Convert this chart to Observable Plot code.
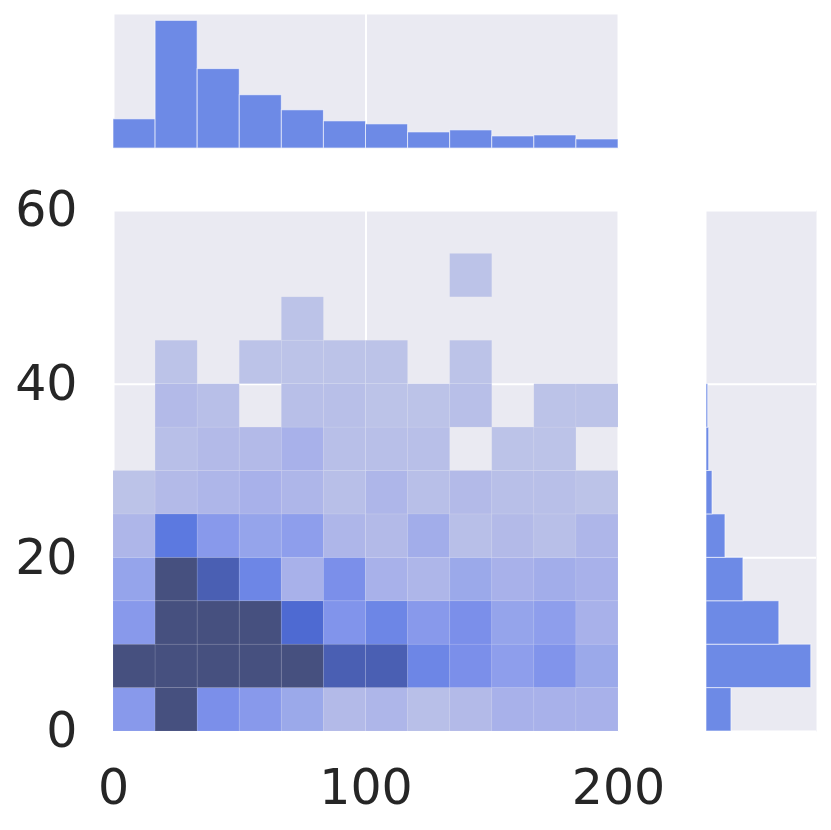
<!DOCTYPE html>
<html>
<head>
<meta charset="utf-8">
<script src="https://cdn.jsdelivr.net/npm/d3@7"></script>
<script src="https://cdn.jsdelivr.net/npm/@observablehq/plot@0.6"></script>
<style>
  html, body { margin: 0; padding: 0; background: white; }
  #wrap { position: relative; width: 831px; height: 830px; overflow: hidden; }
  #wrap > svg { position: absolute; overflow: visible; }
</style>
</head>
<body>
<div id="wrap"></div>
<script>
// ---- data ----
const xBinWidth = 200 / 12;   // 12 x bins over 0..200
const yBinWidth = 5;          // y bins of width 5
const xTicks = [0, 100, 200];
const yTicks = [0, 20, 40, 60];

// top marginal histogram counts (12 x bins)
const topCounts = [29, 127, 79, 53, 38, 27, 24, 16, 18, 12, 13, 9];
// right marginal histogram counts (y bins 0-5 ... 35-40)
const rightCounts = [25, 105, 73, 37, 19, 6, 2.7, 1.7];

// joint 2D histogram counts, one row per y bin (0-5 first), 12 x bins each
const heatRows = [
  [10, 30, 12, 10, 7, 3, 4, 2, 3, 5, 5, 5],
  [30, 30, 30, 30, 30, 20, 20, 14, 12, 9, 11, 7],
  [10, 30, 30, 30, 18, 11, 14, 10, 12, 8, 9, 5],
  [8, 30, 20, 14, 5, 12, 5, 4, 7, 5, 6, 5],
  [4, 16, 10, 8, 9, 4, 3, 6, 2, 3, 2, 4],
  [1, 3, 4, 5, 4, 2, 4, 2, 3, 2, 2, 1],
  [0, 2, 3, 3, 5, 2, 2, 2, 0, 1, 1, 0],
  [0, 3, 2, 0, 2, 2, 1, 1, 2, 0, 1, 1],
  [0, 1, 0, 1, 1, 1, 1, 0, 1, 0, 0, 0],
  [0, 0, 0, 0, 1, 0, 0, 0, 0, 0, 0, 0],
  [0, 0, 0, 0, 0, 0, 0, 0, 1, 0, 0, 0]
];

// colour ramp (count -> colour)
const colorDomain = [1, 3, 5, 7, 9, 12, 14, 16, 18, 20, 24];
const colorRange = ["#bcc3e8", "#b3bae8", "#a8b1ea", "#9ba9ea", "#8e9eec", "#7b8fea",
                    "#6d86e6", "#5c79e0", "#4e6ad2", "#4a5fb3", "#46507f"];

const barColor = "#6d8ae6";
const panelBg = "#eaeaf2";
const font = "DejaVu Sans";

// ---- derived tables ----
const heat = [];
heatRows.forEach((row, r) => row.forEach((v, c) => {
  if (v > 0) heat.push({x1: c * xBinWidth, x2: (c + 1) * xBinWidth, y1: r * yBinWidth, y2: (r + 1) * yBinWidth, count: v});
}));
const topTable = topCounts.map((v, i) => ({x1: i * xBinWidth, x2: (i + 1) * xBinWidth, count: v}));
const rightTable = rightCounts.map((v, i) => ({y1: i * yBinWidth, y2: (i + 1) * yBinWidth, count: v}));

const baseStyle = {fontFamily: font, fontSize: "49px", color: "#262626", background: "transparent", overflow: "visible"};
const wrap = document.getElementById("wrap");

function place(svg, left, topPx) {
  svg.style.left = left + "px";
  svg.style.top = topPx + "px";
  wrap.appendChild(svg);
}

// ---- main joint plot ----
const mainPlot = Plot.plot({
  width: 690, height: 670,
  marginLeft: 113, marginRight: 72, marginTop: 50, marginBottom: 99,
  style: baseStyle,
  x: {domain: [0, 200]},
  y: {domain: [0, 60]},
  color: {type: "linear", domain: colorDomain, range: colorRange, clamp: true},
  marks: [
    Plot.frame({fill: panelBg, stroke: "none"}),
    Plot.gridX(xTicks, {stroke: "white", strokeOpacity: 1, strokeWidth: 2}),
    Plot.gridY(yTicks, {stroke: "white", strokeOpacity: 1, strokeWidth: 2}),
    Plot.rect(heat, {x1: "x1", x2: "x2", y1: "y1", y2: "y2", fill: "count", stroke: "white", strokeOpacity: 0.08, strokeWidth: 1}),
    Plot.axisX({ticks: xTicks, tickSize: 0, tickPadding: 38, label: null, fontSize: 49}),
    Plot.axisY({ticks: yTicks, tickSize: 0, tickPadding: 36, label: null, fontSize: 49})
  ]
});
place(mainPlot, 0, 160);

// ---- top marginal ----
const topPlot = Plot.plot({
  width: 690, height: 160,
  marginLeft: 113, marginRight: 72, marginTop: 14, marginBottom: 12,
  style: baseStyle,
  x: {domain: [0, 200], axis: null},
  y: {domain: [0, d3.max(topCounts) * 1.05], axis: null},
  marks: [
    Plot.frame({fill: panelBg, stroke: "none"}),
    Plot.gridX(xTicks, {stroke: "white", strokeOpacity: 1, strokeWidth: 2}),
    Plot.rectY(topTable, {x1: "x1", x2: "x2", y: "count", fill: barColor, stroke: "white", strokeOpacity: 0.6, strokeWidth: 1})
  ]
});
place(topPlot, 0, 0);

// ---- right marginal ----
const rightPlot = Plot.plot({
  width: 141, height: 670,
  marginLeft: 16, marginRight: 15, marginTop: 50, marginBottom: 99,
  style: baseStyle,
  x: {domain: [0, d3.max(rightCounts) * 1.05], axis: null},
  y: {domain: [0, 60], axis: null},
  marks: [
    Plot.frame({fill: panelBg, stroke: "none"}),
    Plot.gridY(yTicks, {stroke: "white", strokeOpacity: 1, strokeWidth: 2}),
    Plot.rectX(rightTable, {y1: "y1", y2: "y2", x: "count", fill: barColor, stroke: "white", strokeOpacity: 0.6, strokeWidth: 1})
  ]
});
place(rightPlot, 690, 160);
</script>
</body>
</html>
